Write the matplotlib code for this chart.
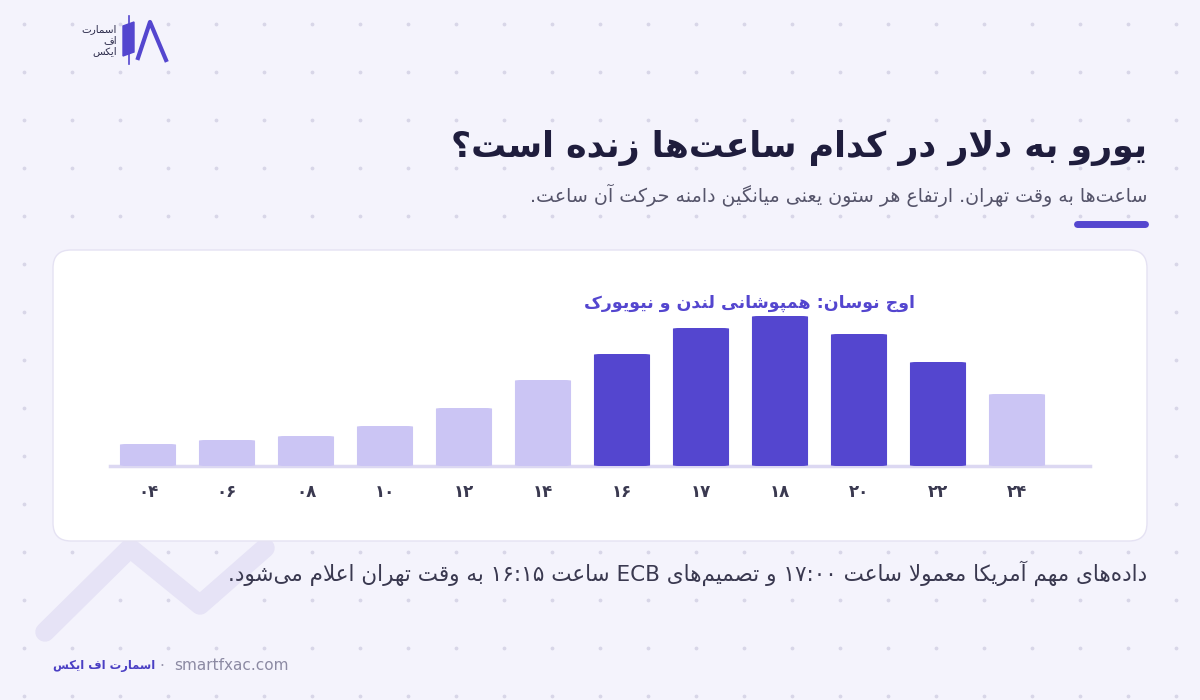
import re, unicodedata
import matplotlib
matplotlib.use("Agg")
import matplotlib.pyplot as plt
from matplotlib.patches import FancyBboxPatch, Rectangle, Polygon

hours = ["۰۴", "۰۶", "۰۸", "۱۰", "۱۲", "۱۴", "۱۶", "۱۷", "۱۸", "۲۰", "۲۲", "۲۴"]
values = [22, 26, 30, 40, 58, 86, 112, 138, 150, 132, 104, 72]
peak = [False]*6 + [True]*5 + [False]

title = "یورو به دلار در کدام ساعت‌ها زنده است؟"
subtitle = "ساعت‌ها به وقت تهران. ارتفاع هر ستون یعنی میانگین دامنه حرکت آن ساعت."
annot = "اوج نوسان: همپوشانی لندن و نیویورک"
note = "داده‌های مهم آمریکا معمولا ساعت ۱۷:۰۰ و تصمیم‌های ECB ساعت ۱۶:۱۵ به وقت تهران اعلام می‌شود."
brand = "اسمارت اف ایکس"
site = "smartfxac.com"

def _form(c, f):
    try:
        return unicodedata.lookup(unicodedata.name(c) + " " + f)
    except Exception:
        return None
def _isletter(c):
    try:
        return unicodedata.name(c).startswith("ARABIC LETTER")
    except Exception:
        return False
def _dual(c):
    return _isletter(c) and _form(c, "INITIAL FORM") is not None

def shape(s):
    out = []
    i = 0
    n = len(s)
    while i < n:
        c = s[i]
        if not _isletter(c):
            if c != "\u200c":
                out.append(c)
            i += 1
            continue
        prev = s[i-1] if i > 0 else ""
        pj = bool(prev) and _dual(prev)
        if c == "ل" and i+1 < n and s[i+1] in "اآ":
            base = "ARABIC LIGATURE LAM WITH ALEF" + (" WITH MADDA ABOVE" if s[i+1] == "آ" else "")
            out.append(unicodedata.lookup(base + (" FINAL FORM" if pj else " ISOLATED FORM")))
            i += 2
            continue
        nxt = s[i+1] if i+1 < n else ""
        nj = _dual(c) and bool(nxt) and _isletter(nxt)
        f = "MEDIAL FORM" if (pj and nj) else "FINAL FORM" if pj else "INITIAL FORM" if nj else "ISOLATED FORM"
        g = _form(c, f) or c
        out.append(g)
        i += 1
    s2 = "".join(out)
    toks = re.findall(r"[A-Za-z0-9۰-۹]+(?:[:.][A-Za-z0-9۰-۹]+)*|.", s2)
    return "".join(reversed(toks))

FONT = ["DejaVu Sans"]
W, H = 1200, 700
fig = plt.figure(figsize=(12, 7), dpi=100)
bg = fig.add_axes([0, 0, 1, 1])
bg.set_xlim(0, W); bg.set_ylim(H, 0); bg.axis("off")
bg.add_patch(Rectangle((0, 0), W, H, color="#f4f3fc", zorder=0))
xs = [x for x in range(24, W, 48)]
ys = [y for y in range(24, H, 48)]
bg.scatter([x for x in xs for y in ys], [y for x in xs for y in ys], s=3, color="#d8d6e8", zorder=1)
bg.plot([45, 130, 200, 265], [632, 548, 605, 548], color="#e6e3f6", lw=14, solid_capstyle="round", solid_joinstyle="round", zorder=1)
bg.add_patch(FancyBboxPatch((53, 250), 1094, 291, boxstyle="round,pad=0,rounding_size=18",
                            fc="white", ec="#e5e2f3", lw=1, zorder=2))
bg.plot([110, 1090], [466, 466], color="#dcd8f2", lw=2.5, zorder=3)
# logo
bg.add_patch(Polygon([[123, 26], [134, 22], [134, 52], [123, 56]], closed=True, color="#5446cf", zorder=3))
bg.plot([128.5, 128.5], [16, 64], color="#5446cf", lw=1.2, zorder=3)
bg.plot([138, 150, 166], [58, 22, 60], color="#5446cf", lw=3, zorder=3)
bg.text(117, 40, shape("اسمارت") + "\n" + shape("اف") + "\n" + shape("ایکس"), ha="right", va="center",
        fontsize=7.5, color="#2b2a4a", family=FONT, linespacing=1.1, zorder=3)
bg.text(1147, 148, shape(title), ha="right", va="center", fontsize=25, fontweight="bold", color="#1f1d3d", family=FONT)
bg.text(1147, 195, shape(subtitle), ha="right", va="center", fontsize=13.7, color="#55546a", family=FONT)
bg.plot([1077, 1145], [224, 224], color="#5446cf", lw=5, solid_capstyle="round")
bg.text(750, 303, shape(annot), ha="center", va="center", fontsize=12.5, fontweight="bold", color="#5446cf", family=FONT, zorder=4)
bg.text(1147, 573, shape(note), ha="right", va="center", fontsize=15.5, color="#3a3950", family=FONT)
bg.text(53, 666, shape(brand), ha="left", va="center", fontsize=8.3, fontweight="bold", color="#4a3fc4", family=FONT)
bg.text(162, 666, "·", ha="center", va="center", fontsize=11, color="#9997ad", family=FONT)
bg.text(174, 666, site, ha="left", va="center", fontsize=11, color="#8c8aa3", family=FONT)

# bar chart: centres at 148 + 79*i px
step, c0, yb, ytop = 79, 148, 466, 300
x0 = c0 - step/2
x1 = c0 + step*(len(values) - 0.5)
ax = fig.add_axes([x0/W, 1 - yb/H, (x1-x0)/W, (yb-ytop)/H])
ax.set_zorder(3); ax.patch.set_alpha(0)
pos = list(range(len(values)))
for p, v, k in zip(pos, values, peak):
    ax.add_patch(FancyBboxPatch((p - 0.355, 0), 0.71, v, boxstyle="round,pad=0,rounding_size=0.09",
                                mutation_aspect=8.0, fc="#5446cf" if k else "#cbc5f4", ec="none"))
ax.set_xlim(-0.5, len(values) - 0.5)
ax.set_ylim(0, 166)
for s in ax.spines.values():
    s.set_visible(False)
ax.set_yticks([])
ax.set_xticks(pos)
ax.set_xticklabels(hours, family=FONT, fontsize=12, fontweight="bold", color="#3a3950")
ax.tick_params(axis="x", length=0, pad=12)
fig.savefig("out.png", dpi=100)
